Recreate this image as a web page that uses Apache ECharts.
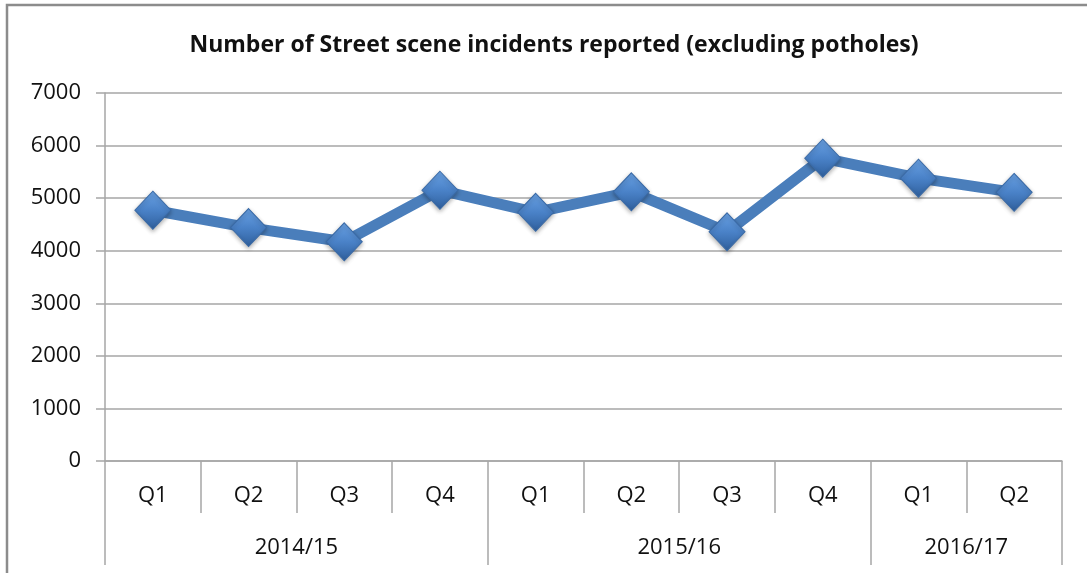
<!DOCTYPE html>
<html>
<head>
<meta charset="utf-8">
<script src="https://cdn.jsdelivr.net/npm/echarts@6/dist/echarts.min.js"></script>
<style>
html,body{margin:0;padding:0;background:#fff;}
#chart{width:1087px;height:573px;}
</style>
</head>
<body>
<div id="chart"></div>
<script>
const titleText = 'Number of Street scene incidents reported (excluding potholes)';
const quarters = ['Q1','Q2','Q3','Q4','Q1','Q2','Q3','Q4','Q1','Q2'];
const years = ['2014/15','2015/16','2016/17'];
const yearSpans = [4, 4, 2];
const incidents = [4770, 4440, 4170, 5150, 4730, 5120, 4360, 5760, 5380, 5110];
const yTicks = {min: 0, max: 7000, interval: 1000};

// derived positions for year group axis (in category units)
const yearBounds = [0];
const yearCenters = [];
yearSpans.forEach((s, i) => {
  const start = yearBounds[yearBounds.length - 1];
  yearCenters.push(start + s / 2);
  yearBounds.push(start + s);
});

const font = "'Open Sans', sans-serif";
const gridColor = '#a6a6a6';
const textColor = '#111';

const chart = echarts.init(document.getElementById('chart'));
chart.setOption({
  backgroundColor: '#fff',
  animation: false,
  graphic: [{
    type: 'rect',
    shape: {x: 7, y: 5, width: 1100, height: 600},
    style: {fill: 'none', stroke: '#8c8c8c', lineWidth: 2.5},
    silent: true, z: -10
  }],
  title: {
    text: titleText,
    left: 549, top: 29, textAlign: 'center',
    textStyle: {fontFamily: font, fontWeight: 'bold', fontSize: 23, color: textColor}
  },
  grid: {left: 105, right: 25, top: 93, bottom: 112},
  xAxis: [{
    type: 'category',
    data: quarters,
    boundaryGap: true,
    axisLine: {show: true, lineStyle: {color: gridColor, width: 1.5}},
    axisTick: {show: true, length: 52, lineStyle: {color: gridColor, width: 1.5}},
    axisLabel: {margin: 24, fontFamily: font, fontSize: 22, color: textColor},
    splitLine: {show: false}
  }, {
    type: 'value',
    position: 'bottom',
    offset: 52,
    min: 0, max: quarters.length,
    axisLine: {show: false},
    axisTick: {show: true, length: 52, customValues: yearBounds, lineStyle: {color: gridColor, width: 1.5}},
    axisLabel: {
      margin: 24, fontFamily: font, fontSize: 22, color: textColor,
      customValues: yearCenters,
      formatter: v => years[yearCenters.indexOf(v)] || ''
    },
    splitLine: {show: false}
  }],
  yAxis: {
    type: 'value',
    min: yTicks.min, max: yTicks.max, interval: yTicks.interval,
    axisLine: {show: true, lineStyle: {color: gridColor, width: 1.5}},
    axisTick: {show: true, length: 9, lineStyle: {color: gridColor, width: 1.5}},
    axisLabel: {margin: 24, fontFamily: font, fontSize: 22, color: textColor, formatter: v => String(v)},
    splitLine: {show: true, lineStyle: {color: gridColor, width: 1.5}}
  },
  series: [{
    type: 'line',
    xAxisIndex: 0,
    data: incidents,
    symbol: 'diamond',
    symbolSize: [36, 38],
    lineStyle: {color: '#4a7ebb', width: 11},
    itemStyle: {
      color: {
        type: 'linear', x: 0, y: 0, x2: 0, y2: 1,
        colorStops: [{offset: 0, color: '#6aa2e4'}, {offset: 0.5, color: '#4a82c8'}, {offset: 1, color: '#2f5f9c'}]
      },
      borderColor: '#3a6aa6', borderWidth: 1,
      shadowColor: 'rgba(0,0,0,0.3)', shadowBlur: 4, shadowOffsetY: 2
    },
    z: 5
  }]
});
</script>
</body>
</html>
